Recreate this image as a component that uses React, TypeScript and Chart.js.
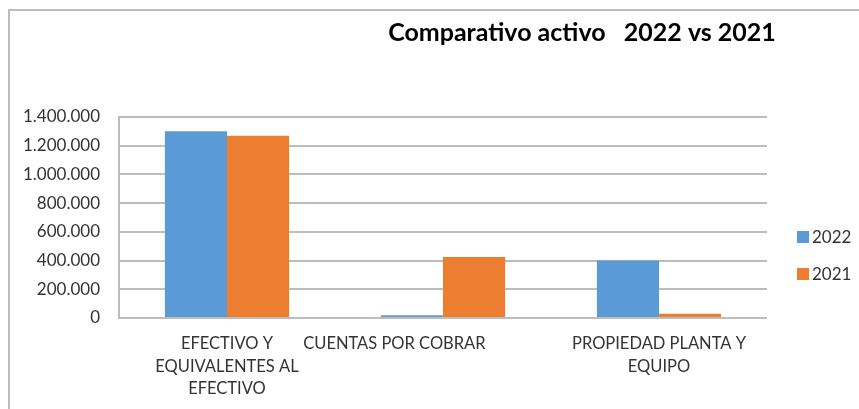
import React, { useEffect, useRef } from "react";
import { Chart, registerables } from "chart.js";

Chart.register(...registerables);

const TITLE = "Comparativo activo   2022 vs 2021";
const categories: (string | string[])[] = [
  ["EFECTIVO Y", "EQUIVALENTES AL", "EFECTIVO"],
  "CUENTAS POR COBRAR" + " ".repeat(23),
  ["PROPIEDAD PLANTA Y", "EQUIPO"],
];
const seriesNames = ["2022", "2021"];
const values2022 = [1300000, 20000, 400000];
const values2021 = [1270000, 425000, 30000];
const seriesColors = ["#5B9BD5", "#ED7D31"];
const yMin = 0;
const yMax = 1400000;
const yStep = 200000;

const FONT = "Lato, 'Open Sans', sans-serif";
const TEXT = "#333333";

const fmt = (v: number) =>
  Math.round(v)
    .toString()
    .replace(/\B(?=(\d{3})+(?!\d))/g, ".");

const titlePlugin = {
  id: "customTitle",
  afterDraw(chart: any) {
    const ctx = chart.ctx;
    ctx.save();
    ctx.font = `bold 25px ${FONT}`;
    ctx.fillStyle = "#000000";
    ctx.textAlign = "center";
    ctx.textBaseline = "middle";
    ctx.fillText(TITLE, 582, 33);
    ctx.restore();
  },
};

const legendPlugin = {
  id: "customLegend",
  afterDraw(chart: any) {
    const ctx = chart.ctx;
    const x = chart.chartArea.right + 30;
    ctx.save();
    ctx.font = `17px ${FONT}`;
    ctx.textBaseline = "middle";
    ctx.textAlign = "left";
    chart.data.datasets.forEach((ds: any, i: number) => {
      const cy = 237 + i * 37;
      ctx.fillStyle = ds.backgroundColor;
      ctx.fillRect(x, cy - 6, 12, 12);
      ctx.fillStyle = TEXT;
      ctx.fillText(ds.label, x + 15, cy + 1);
    });
    ctx.restore();
  },
};

export default function App() {
  const ref = useRef<HTMLCanvasElement>(null);

  useEffect(() => {
    if (!ref.current) return;
    const chart = new Chart(ref.current, {
      type: "bar",
      data: {
        labels: categories,
        datasets: [
          {
            label: seriesNames[0],
            data: values2022,
            backgroundColor: seriesColors[0],
            barPercentage: 1,
            categoryPercentage: 0.575,
          },
          {
            label: seriesNames[1],
            data: values2021,
            backgroundColor: seriesColors[1],
            barPercentage: 1,
            categoryPercentage: 0.575,
          },
        ],
      },
      options: {
        responsive: false,
        animation: false,
        layout: { padding: { left: 8, top: 117, right: 92, bottom: 0 } },
        plugins: {
          legend: { display: false },
          title: { display: false },
          tooltip: { enabled: false },
        },
        scales: {
          x: {
            grid: { display: false, drawTicks: false },
            border: { display: false },
            ticks: {
              color: TEXT,
              font: { family: FONT, size: 16.5, lineHeight: 1.35 },
              padding: 15,
              maxRotation: 0,
              minRotation: 0,
              autoSkip: false,
            },
            afterFit(s: any) {
              s.height = 91;
            },
          },
          y: {
            min: yMin,
            max: yMax,
            grid: { color: "#BDBDBD", lineWidth: 2, drawTicks: false },
            border: { display: true, color: "#BDBDBD", width: 2 },
            ticks: {
              stepSize: yStep,
              color: TEXT,
              font: { family: FONT, size: 17 },
              padding: 19,
              callback: (v: any) => fmt(Number(v)),
            },
            afterFit(s: any) {
              s.width = 111;
            },
          },
        },
      },
      plugins: [titlePlugin, legendPlugin],
    });
    return () => chart.destroy();
  }, []);

  return (
    <div style={{ position: "fixed", left: 0, top: 0, width: 859, height: 409, background: "#fff", overflow: "hidden" }}>
      <div
        style={{
          position: "absolute",
          left: 8,
          top: 9,
          width: 900,
          height: 500,
          borderLeft: "2px solid #BDBDBD",
          borderTop: "2px solid #BDBDBD",
        }}
      />
      <canvas ref={ref} width={859} height={409} style={{ position: "absolute", left: 0, top: 0 }} />
    </div>
  );
}
